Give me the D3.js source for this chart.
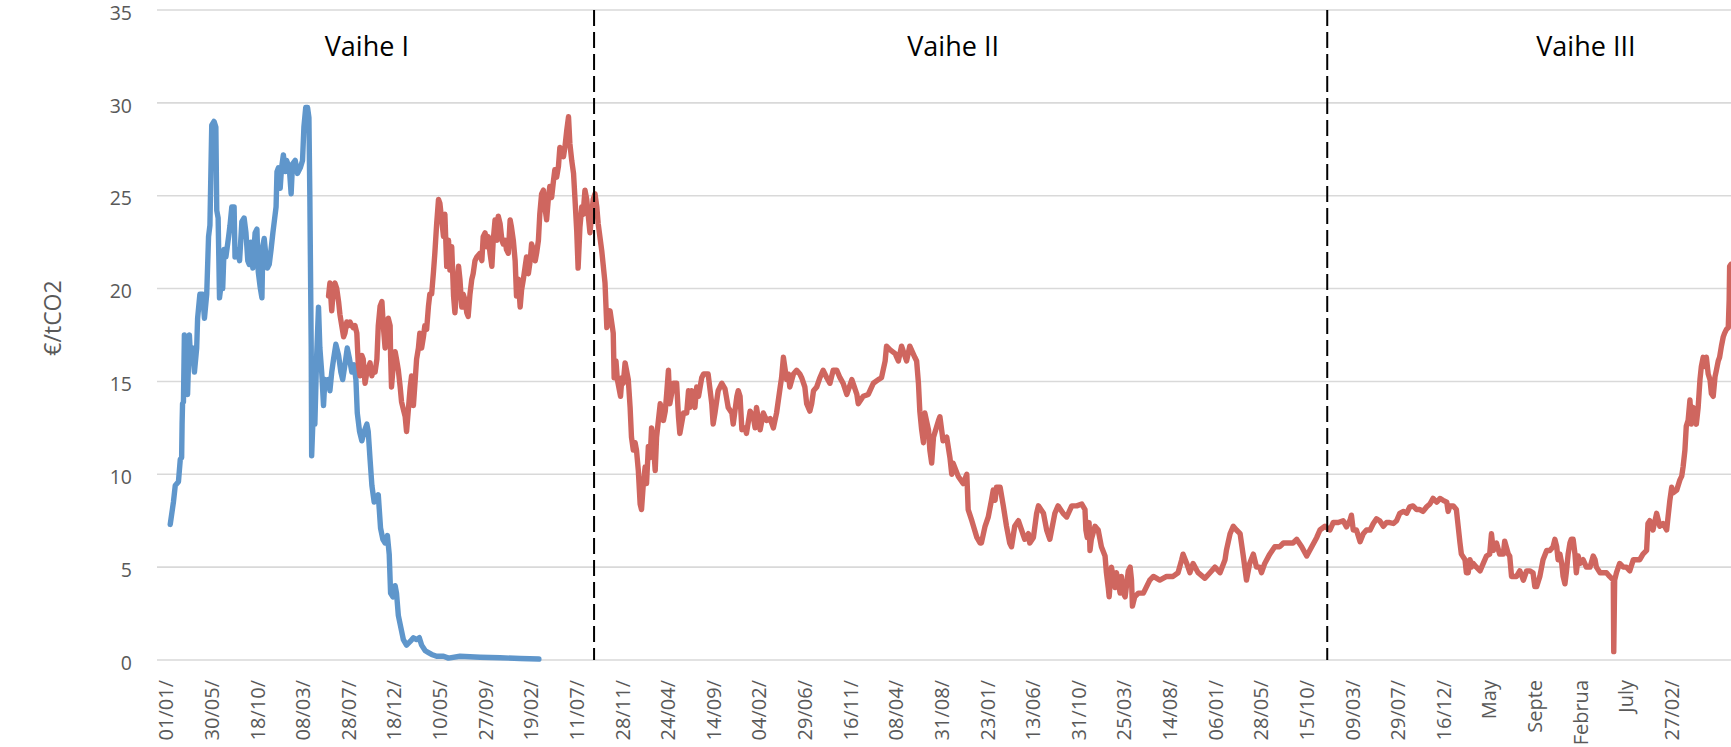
<!DOCTYPE html>
<html>
<head>
<meta charset="utf-8">
<script src="https://cdn.jsdelivr.net/npm/d3@7"></script>
<style>
  html, body { margin: 0; padding: 0; background: #ffffff; }
  svg { display: block; }
</style>
</head>
<body>
<svg id="chart" width="1731" height="747"></svg>
<script>
// ---------------- DATA ----------------
// category axis: one category per trading day; a label is shown every 100 categories
const categoryLabels = ["01/01/","30/05/","18/10/","08/03/","28/07/","18/12/","10/05/","27/09/","19/02/","11/07/",
  "28/11/","24/04/","14/09/","04/02/","29/06/","16/11/","08/04/","31/08/","23/01/","13/06/",
  "31/10/","25/03/","14/08/","06/01/","28/05/","15/10/","09/03/","29/07/","16/12/","May",
  "Septe","Februa","July","27/02/"];
const labelStep = 100;
const categoryCount = 3431;

const yTicks = [0, 5, 10, 15, 20, 25, 30, 35];
const yTitle = "€/tCO2";

// phase boundaries (category index) and phase labels
const phaseBoundaries = [939, 2546];
const phaseNames = ["Vaihe I", "Vaihe II", "Vaihe III"];
const phaseLabelIdx = [441, 1726, 3113];
const phaseLabelVal = [32.5, 32.5, 32.5];

// Phase I allowance price (blue): [category index, €/tCO2]
const bluePrices = [[10,7.3],[17,8.5],[21,9.4],[28,9.6],[32,10.8],[35,10.9],[36,12.7],[37,13.8],[39,13.9],[41,17.5],
  [45,16.8],[48,14.3],[52,17.5],[55,16.0],[59,16.8],[63,15.5],[68,16.8],[70,18.4],[75,19.7],[81,19.7],
  [85,18.4],[90,19.7],[94,22.8],[97,23.4],[101,28.8],[106,29.0],[110,28.7],[112,24.2],[115,23.8],[118,19.5],
  [121,20.1],[123,21.9],[125,20.0],[128,22.1],[132,21.7],[138,22.8],[141,23.4],[145,24.4],[150,24.4],[152,21.7],
  [157,22.1],[162,21.5],[167,23.6],[172,23.8],[176,23.0],[180,21.5],[183,21.3],[187,22.5],[191,21.1],[196,23.0],
  [200,23.2],[203,20.9],[207,20.1],[211,19.5],[213,22.3],[216,22.7],[220,21.7],[223,21.1],[227,21.3],[231,22.1],
  [235,23.0],[238,23.6],[242,24.4],[244,26.3],[247,26.5],[251,25.4],[254,26.5],[258,27.2],[262,26.3],[265,26.9],
  [271,26.5],[275,25.1],[278,26.7],[284,26.9],[289,26.2],[295,26.5],[300,26.9],[303,28.7],[307,29.75],[311,29.75],
  [314,29.2],[316,25.0],[319,16.8],[320,11.0],[324,13.7],[327,12.7],[331,16.4],[335,19.0],[338,16.8],[342,15.5],
  [346,13.7],[349,15.1],[353,14.7],[357,15.1],[360,14.5],[364,15.5],[368,16.2],[373,17.0],[379,16.4],[384,15.5],
  [388,15.1],[393,15.9],[398,16.8],[403,16.2],[408,15.5],[413,15.9],[417,15.1],[420,13.3],[425,12.3],[430,11.8],
  [435,12.3],[441,12.7],[444,12.3],[448,10.8],[452,9.4],[457,8.5],[461,8.7],[466,8.9],[471,7.1],[476,6.5],
  [481,6.3],[486,6.7],[490,5.7],[493,3.6],[498,3.4],[503,4.0],[506,3.6],[510,2.4],[515,1.8],[521,1.1],
  [528,0.8],[536,1.0],[543,1.2],[550,1.1],[556,1.2],[561,0.8],[569,0.5],[576,0.4],[583,0.3],[594,0.2],
  [609,0.2],[620,0.1],[645,0.2],[689,0.15],[733,0.12],[777,0.08],[818,0.05]];

// Phase II / III allowance price (red): [category index, €/tCO2]
const redPrices = [[357,19.6],[360,20.3],[364,18.8],[368,20.1],[371,20.3],[375,20.0],[379,19.3],[382,18.6],[386,18.0],[390,17.4],
  [393,17.6],[397,18.2],[400,18.0],[404,18.2],[408,18.0],[411,17.9],[415,18.0],[419,17.6],[422,16.0],[426,15.3],
  [430,16.4],[433,16.2],[437,14.9],[441,15.5],[444,15.7],[448,16.0],[452,15.3],[455,15.7],[459,15.5],[463,16.2],
  [466,18.0],[470,19.05],[474,19.3],[477,18.0],[481,16.8],[484,18.2],[488,18.4],[492,18.0],[493,16.4],[495,14.7],
  [499,15.9],[503,16.6],[506,16.2],[510,15.6],[514,14.7],[517,13.9],[521,13.5],[525,13.1],[528,12.3],[532,13.5],
  [536,14.7],[539,15.3],[543,13.7],[547,15.1],[550,16.2],[554,16.8],[557,17.6],[561,16.8],[565,17.4],[568,18.0],
  [572,17.8],[576,19.05],[579,19.7],[583,19.7],[587,20.9],
  [590,21.9],[594,23.5],[598,24.8],[601,24.6],[605,23.7],[609,22.8],[612,24.0],[616,21.2],[620,22.6],[623,21.0],
  [627,22.25],[631,19.6],[634,18.7],[638,20.1],[642,21.2],[645,20.5],[649,19.0],[652,19.7],[656,19.4],[660,18.7],
  [663,18.5],[667,19.7],[671,20.5],[674,20.8],[678,21.5],[682,21.7],[689,21.9],[693,21.5],[696,22.8],[700,23.0],
  [704,22.25],[707,22.8],[711,21.9],[715,21.2],[718,22.6],[722,23.7],[726,22.6],[729,23.9],[733,23.5],[737,22.6],
  [740,22.4],[744,22.6],[747,22.1],[751,21.9],[755,23.7],[758,23.3],[762,22.6],[766,21.5],[769,19.6],[773,20.5],
  [777,19.0],[780,19.9],[784,20.5],[788,21.2],[791,21.7],[795,20.8],[799,21.5],[802,22.4],[806,22.1],[810,21.5],
  [813,21.9],[817,22.6],[820,24.0],[824,25.1],[828,25.3],[831,24.4],[835,23.7],[839,24.9],[842,25.5],[846,24.9],
  [850,25.8],[853,26.4],[857,26.0],[861,26.6],[864,27.6],[868,27.45],[872,27.1],[875,27.6],[879,28.5],[883,29.25],
  [886,27.8],[890,26.9],[894,26.2],[897,24.9],[901,23.1],[904,21.1],[908,23.3],[912,24.4],[915,24.0],[919,25.3],
  [923,24.8],[926,24.0],[930,23.0],[934,24.0],[937,24.8],[941,25.1],[945,24.4],[948,23.5],
  [956,22.0],[963,20.3],[967,17.9],[974,18.8],[981,17.6],[983,15.2],[987,16.1],[990,15.1],[997,14.2],[1000,15.2],
  [1003,14.9],[1007,16.0],[1014,15.1],[1018,13.6],[1021,12.0],[1025,11.3],[1029,11.7],[1032,11.3],[1036,10.2],[1040,8.4],
  [1043,8.1],[1047,9.5],[1051,10.4],[1054,9.5],[1058,11.5],[1062,10.9],[1065,12.5],[1069,11.7],[1073,10.2],[1076,12.0],
  [1084,13.8],[1091,12.9],[1095,13.4],[1098,14.3],[1102,15.6],[1105,13.8],[1113,14.9],[1120,14.9],[1124,13.1],[1127,12.2],
  [1135,13.3],[1142,13.3],[1146,14.5],[1149,13.6],[1153,14.5],[1160,13.6],[1164,14.7],[1168,14.2],[1175,15.2],[1179,15.4],
  [1189,15.4],[1197,13.8],[1200,12.7],[1204,13.3],[1211,14.5],[1219,14.9],[1226,14.6],[1233,13.6],[1241,13.3],[1244,12.7],
  [1252,14.2],[1255,14.5],[1259,14.2],[1263,12.4],[1270,12.5],[1273,12.2],[1281,13.4],[1288,13.1],[1292,12.5],[1295,13.6],
  [1303,12.4],[1310,13.3],[1317,12.9],[1325,13.0],[1332,12.5],[1339,13.3],[1343,14.0],[1347,14.7],[1350,15.2],[1354,16.3],
  [1361,15.1],[1365,15.4],[1368,14.7],[1376,15.4],[1383,15.6],[1390,15.4],[1394,15.2],[1401,14.7],[1405,13.8],[1412,13.4],
  [1416,13.8],[1420,14.5],[1427,14.7],[1434,15.2],[1441,15.6],[1449,15.2],[1456,14.9],[1463,15.6],[1471,15.6],[1478,15.2],
  [1485,14.9],[1493,14.3],[1504,15.1],[1515,14.3],[1518,13.8],[1529,14.2],[1540,14.3],[1551,14.9],[1562,15.1],[1569,15.2],
  [1577,16.1],[1580,16.9],[1588,16.7],[1599,16.5],[1606,16.1],[1613,16.9],[1624,16.1],[1631,16.9],[1642,16.3],[1646,16.1],
  [1650,14.9],[1653,13.4],[1657,12.4],[1661,11.7],[1664,13.3],[1672,12.4],[1675,11.3],[1679,10.6],[1683,12.0],[1694,12.9],
  [1697,13.1],[1704,11.8],[1712,12.0],[1719,10.9],[1723,10.0],[1726,10.6],[1737,9.9],[1748,9.5],[1756,10.0],[1759,8.1],
  [1767,7.5],[1778,6.6],[1785,6.3],
  [1788,6.3],[1796,7.2],[1803,7.7],[1810,8.6],[1814,9.15],[1818,8.6],[1821,9.3],[1829,9.3],[1836,8.3],[1843,7.2],
  [1850,6.3],[1854,6.1],[1861,7.2],[1869,7.5],[1876,7.0],[1883,6.5],[1891,6.8],[1894,6.3],[1902,6.6],[1909,7.9],
  [1913,8.3],[1924,7.9],[1931,7.0],[1938,6.5],[1949,7.9],[1956,8.3],[1967,7.9],[1975,7.7],[1986,8.3],[1997,8.3],
  [2008,8.4],[2015,8.1],[2017,7.0],[2020,6.6],[2024,7.4],[2026,5.9],[2029,6.5],[2037,7.2],[2044,7.0],[2051,6.1],
  [2059,5.6],[2062,4.7],[2066,3.9],[2068,3.4],[2073,5.0],[2081,3.9],[2084,4.7],[2092,3.6],[2095,4.5],[2099,3.6],
  [2103,3.4],[2110,4.8],[2114,5.0],[2117,4.3],[2119,2.9],[2124,3.4],[2132,3.6],[2143,3.6],[2157,4.3],[2165,4.5],
  [2179,4.3],[2194,4.5],[2208,4.5],[2219,4.7],[2227,5.4],[2230,5.7],[2238,5.2],[2245,4.7],[2252,5.2],[2263,4.7],
  [2278,4.4],[2289,4.7],[2300,5.0],[2311,4.7],[2322,5.4],[2325,5.9],[2333,6.8],[2340,7.2],[2347,7.0],[2355,6.8],
  [2362,5.6],[2369,4.3],[2376,5.2],[2384,5.7],[2391,5.0],[2398,5.0],[2402,4.7],[2409,5.2],[2420,5.7],[2431,6.1],
  [2442,6.1],[2450,6.3],[2460,6.3],[2471,6.3],[2479,6.5],[2490,6.1],[2501,5.6],[2512,6.1],[2523,6.6],[2530,7.0],
  [2541,7.2],[2552,7.0],[2559,7.4],[2570,7.4],[2581,7.5],
  [2588,7.17],[2596,7.53],[2599,7.8],[2603,7.0],[2610,7.0],[2618,6.37],[2625,6.8],[2632,7.0],[2640,7.0],[2647,7.35],
  [2654,7.6],[2661,7.5],[2669,7.2],[2676,7.4],[2683,7.4],[2691,7.35],[2698,7.5],[2705,7.9],[2713,8.0],[2720,7.9],
  [2727,8.25],[2734,8.3],[2742,8.1],[2749,8.1],[2756,8.0],[2764,8.25],[2771,8.4],[2778,8.7],[2786,8.5],[2793,8.7],
  [2800,8.6],[2808,8.5],[2811,8.0],[2815,8.3],[2822,8.3],[2829,8.1],[2833,7.2],[2837,6.3],[2840,5.7],[2848,5.4],
  [2851,4.7],[2855,4.7],[2859,5.4],[2862,5.0],[2866,5.2],[2873,5.0],[2881,4.8],[2888,5.2],[2895,5.6],[2902,5.7],
  [2906,6.8],[2910,5.9],[2917,6.3],[2924,5.7],[2932,5.7],[2935,6.4],[2943,5.7],[2946,5.6],[2950,4.5],[2961,4.5],
  [2968,4.8],[2976,4.3],[2983,4.8],[2990,4.8],[2997,4.7],[3001,3.95],[3005,3.95],[3012,4.5],[3019,5.4],[3027,5.9],
  [3034,5.9],[3041,6.1],[3045,6.5],[3049,6.1],[3052,5.4],[3056,5.7],[3060,5.2],[3063,4.5],[3067,4.1],[3070,4.7],
  [3074,5.7],[3078,6.3],[3081,6.5],[3085,6.5],[3089,5.7],[3092,4.7],[3096,5.6],[3100,5.2],[3107,5.4],[3114,5.0],
  [3122,5.0],[3129,5.6],[3133,5.4],[3136,5.0],[3144,4.7],[3151,4.7],[3158,4.7],[3165,4.5],[3173,4.3],[3174,0.45],
  [3176,4.3],[3180,4.7],[3187,5.2],[3195,5.0],[3202,5.0],[3209,4.8],[3217,5.4],[3224,5.4],[3231,5.4],[3238,5.7],
  [3246,5.9],[3249,7.35],[3253,7.5],[3260,7.0],[3268,7.9],[3275,7.2],[3282,7.35],[3290,7.0],[3293,7.7],[3297,8.6],
  [3301,9.3],[3304,9.0],[3312,9.15],[3319,9.7],[3323,9.9],[3326,10.4],[3330,11.3],[3333,12.6],[3337,12.9],[3341,14.0],
  [3344,12.7],[3348,13.6],[3355,12.7],[3359,13.6],[3363,15.1],[3366,15.8],[3370,16.3],[3374,15.8],[3377,16.3],[3381,15.4],
  [3385,15.1],[3388,14.35],[3392,14.2],[3396,15.25],[3399,15.6],[3403,16.1],[3406,16.3],[3410,16.9],[3414,17.4],[3417,17.6],
  [3421,17.8],[3425,17.9],[3427,19.4],[3428,21.2],[3431,21.3]];

// ---------------- LAYOUT / STYLE ----------------
const W = 1731, H = 747;
const plot = { left: 157, right: 1731, top: 10, bottom: 660 };
const colors = { blue: "#5F96CB", red: "#CF665F", grid: "#D9D9D9", text: "#595959" };
const font = "'Open Sans', 'Liberation Sans', sans-serif";

const svg = d3.select("#chart");

const x = d3.scaleLinear().domain([-19, categoryCount]).range([plot.left, plot.right]);
const y = d3.scaleLinear().domain([0, 35]).range([plot.bottom, plot.top]);

// gridlines
svg.append("g")
  .selectAll("line")
  .data(yTicks)
  .join("line")
  .attr("x1", plot.left).attr("x2", plot.right)
  .attr("y1", d => y(d)).attr("y2", d => y(d))
  .attr("stroke", colors.grid).attr("stroke-width", 1.6);

// y-axis labels
const yAxis = d3.axisLeft(y).tickValues(yTicks).tickSize(0).tickPadding(0);
const yG = svg.append("g").attr("transform", `translate(132,3)`).call(yAxis);
yG.select(".domain").remove();
yG.selectAll("text")
  .attr("fill", colors.text)
  .style("font-family", font)
  .style("font-size", "19.5px");

// x-axis labels (one label every labelStep categories)
const xTickVals = categoryLabels.map((_, i) => i * labelStep);
const xAxis = d3.axisBottom(x).tickValues(xTickVals).tickSize(0)
  .tickFormat((d, i) => categoryLabels[i]);
const xG = svg.append("g").attr("transform", `translate(0,${plot.bottom})`).call(xAxis);
xG.select(".domain").remove();
xG.selectAll("text")
  .attr("fill", colors.text)
  .style("font-family", font)
  .style("font-size", "20px")
  .attr("text-anchor", "end")
  .attr("transform", "rotate(-90)")
  .attr("x", -20)
  .attr("y", 0)
  .attr("dy", "0.36em");

// y-axis title
svg.append("text")
  .attr("transform", `translate(53,318) rotate(-90)`)
  .attr("text-anchor", "middle")
  .attr("dy", "0.36em")
  .attr("fill", colors.text)
  .style("font-family", font)
  .style("font-size", "23px")
  .text(yTitle);

// series lines
const line = d3.line().x(d => x(d[0])).y(d => y(d[1])).curve(d3.curveLinear);
svg.append("clipPath").attr("id", "plotclip")
  .append("rect").attr("x", plot.left - 5).attr("y", 0).attr("width", plot.right - plot.left + 5).attr("height", H);

const series = svg.append("g").attr("clip-path", "url(#plotclip)");
series.append("path").datum(bluePrices)
  .attr("d", line).attr("fill", "none")
  .attr("stroke", colors.blue).attr("stroke-width", 5.4)
  .attr("stroke-linejoin", "round").attr("stroke-linecap", "round");
series.append("path").datum(redPrices)
  .attr("d", line).attr("fill", "none")
  .attr("stroke", colors.red).attr("stroke-width", 5.4)
  .attr("stroke-linejoin", "round").attr("stroke-linecap", "round");

// phase boundaries
svg.append("g").selectAll("line")
  .data(phaseBoundaries)
  .join("line")
  .attr("x1", d => x(d)).attr("x2", d => x(d))
  .attr("y1", y(35)).attr("y2", y(0))
  .attr("stroke", "#000").attr("stroke-width", 2)
  .attr("stroke-dasharray", "16,6");

// phase labels
svg.append("g").selectAll("text")
  .data(phaseNames)
  .join("text")
  .attr("x", (d, i) => x(phaseLabelIdx[i]))
  .attr("y", (d, i) => y(phaseLabelVal[i]))
  .attr("text-anchor", "middle")
  .attr("fill", "#000")
  .style("font-family", font)
  .style("font-size", "27px")
  .text(d => d);
</script>
</body>
</html>
